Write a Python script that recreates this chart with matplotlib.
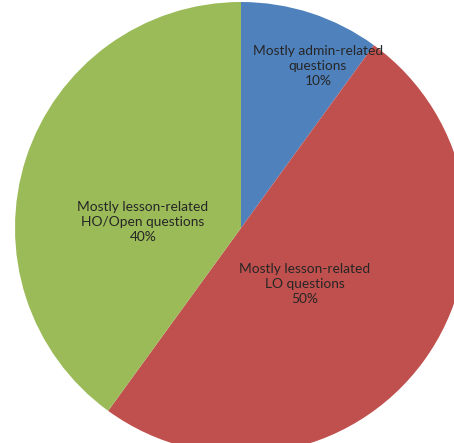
import matplotlib
matplotlib.use("Agg")
import matplotlib.pyplot as plt

# Share of questions by type
categories = [
    "Mostly admin-related\nquestions",
    "Mostly lesson-related\nLO questions",
    "Mostly lesson-related\nHO/Open questions",
]
shares = [10, 50, 40]
colors = ["#4F81BD", "#C0504D", "#9BBB59"]

# label anchor points inside each wedge (x, y in pie radius units)
label_pos = [(0.34, 0.715), (0.283, -0.248), (-0.434, 0.027)]

W, H = 454, 443
fig = plt.figure(figsize=(W / 100, H / 100), dpi=100)
ax = fig.add_axes([0, 0, 1, 1])

R_px, cx, cy = 226, 241, 228
ax.pie(shares, colors=colors, startangle=90, counterclock=False,
       radius=1.0, wedgeprops=dict(linewidth=0))
ax.set_xlim(-cx / R_px, (W - cx) / R_px)
ax.set_ylim((cy - H) / R_px, cy / R_px)
ax.set_aspect("auto")
ax.axis("off")

for name, val, (x, y) in zip(categories, shares, label_pos):
    ax.text(x, y, f"{name}\n{val}%", ha="center", va="center",
            fontsize=9.9, family=["Lato", "DejaVu Sans"], color="#262626",
            linespacing=1.3)

fig.savefig("out.png", dpi=100)
